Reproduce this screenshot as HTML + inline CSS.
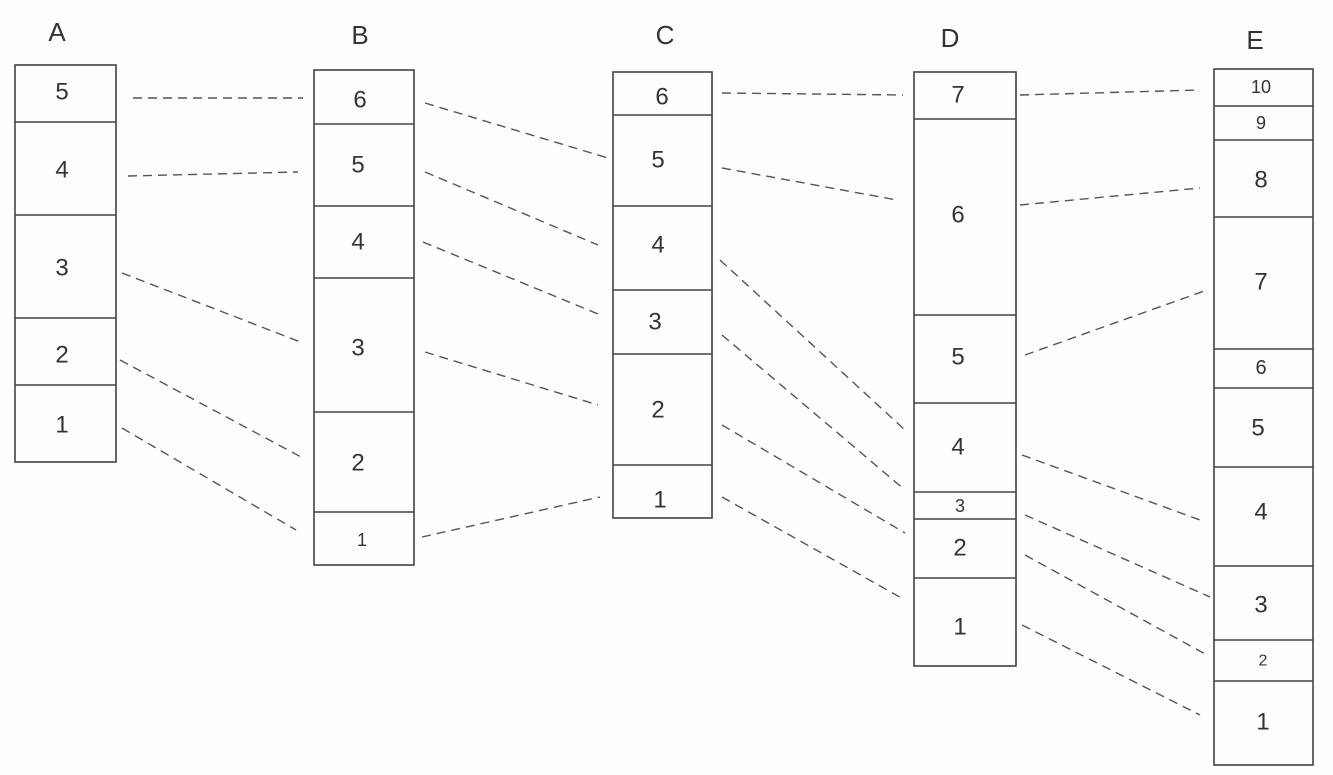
<!DOCTYPE html>
<html><head><meta charset="utf-8"><style>
html,body{margin:0;padding:0;background:#fdfdfd;}
svg{display:block}
text{font-family:"Liberation Sans",sans-serif;fill:#333;text-anchor:middle;dominant-baseline:central;}
</style></head><body>
<svg width="1333" height="775" viewBox="0 0 1333 775" xmlns="http://www.w3.org/2000/svg">
<g fill="none" stroke="#444" stroke-width="1.6">
<rect x="15" y="65" width="101" height="397"/>
<path d="M15 122H116M15 215H116M15 318H116M15 385H116"/>
<rect x="314" y="70" width="100" height="495"/>
<path d="M314 124H414M314 206H414M314 278H414M314 412H414M314 512H414"/>
<rect x="613" y="72" width="99" height="446"/>
<path d="M613 115H712M613 206H712M613 290H712M613 354H712M613 465H712"/>
<rect x="914" y="72" width="102" height="594"/>
<path d="M914 119H1016M914 315H1016M914 403H1016M914 492H1016M914 519H1016M914 578H1016"/>
<rect x="1214" y="69" width="99" height="696"/>
<path d="M1214 106H1313M1214 140H1313M1214 217H1313M1214 349H1313M1214 388H1313M1214 467H1313M1214 566H1313M1214 640H1313M1214 681H1313"/>
</g>
<g stroke="#555" stroke-width="1.4" stroke-dasharray="9,6" fill="none">
<path d="M133 98L303 98M128 176L298 172M122 273L303 343M120 360L303 458M122 428L296 530"/>
<path d="M425 103L608 158M425 172L598 245M423 242L603 316M425 352L598 405M422 537L600 497"/>
<path d="M722 93L903 95M722 168L897 200M720 260L905 430M722 335L905 490M722 425L905 533M722 497L905 600"/>
<path d="M1020 95L1200 90M1020 205L1200 188M1025 355L1207 290M1022 455L1200 520M1025 515L1210 597M1025 555L1207 655M1022 625L1200 715"/>
</g>
<g font-size="26">
<text x="57" y="32">A</text><text x="360" y="35">B</text><text x="665" y="35">C</text><text x="950" y="38">D</text><text x="1255" y="40">E</text>
</g>
<g font-size="24">
<text x="62" y="92">5</text><text x="62" y="170">4</text><text x="62" y="268">3</text><text x="62" y="355">2</text><text x="62" y="425">1</text>
<text x="360" y="100">6</text><text x="358" y="165">5</text><text x="358" y="242">4</text><text x="358" y="348">3</text><text x="358" y="463">2</text><text x="362" y="540" font-size="18">1</text>
<text x="662" y="97">6</text><text x="658" y="160">5</text><text x="658" y="245">4</text><text x="655" y="322">3</text><text x="658" y="410">2</text><text x="660" y="500">1</text>
<text x="958" y="95">7</text><text x="958" y="215">6</text><text x="958" y="357">5</text><text x="958" y="447">4</text><text x="960" y="506" font-size="18">3</text><text x="960" y="548">2</text><text x="960" y="627">1</text>
<text x="1261" y="87" font-size="18">10</text><text x="1261" y="123" font-size="18">9</text><text x="1261" y="180">8</text><text x="1261" y="282">7</text><text x="1261" y="368" font-size="20">6</text><text x="1258" y="428">5</text><text x="1261" y="512">4</text><text x="1261" y="605">3</text><text x="1263" y="661" font-size="16">2</text><text x="1263" y="722">1</text>
</g>
</svg>
</body></html>
